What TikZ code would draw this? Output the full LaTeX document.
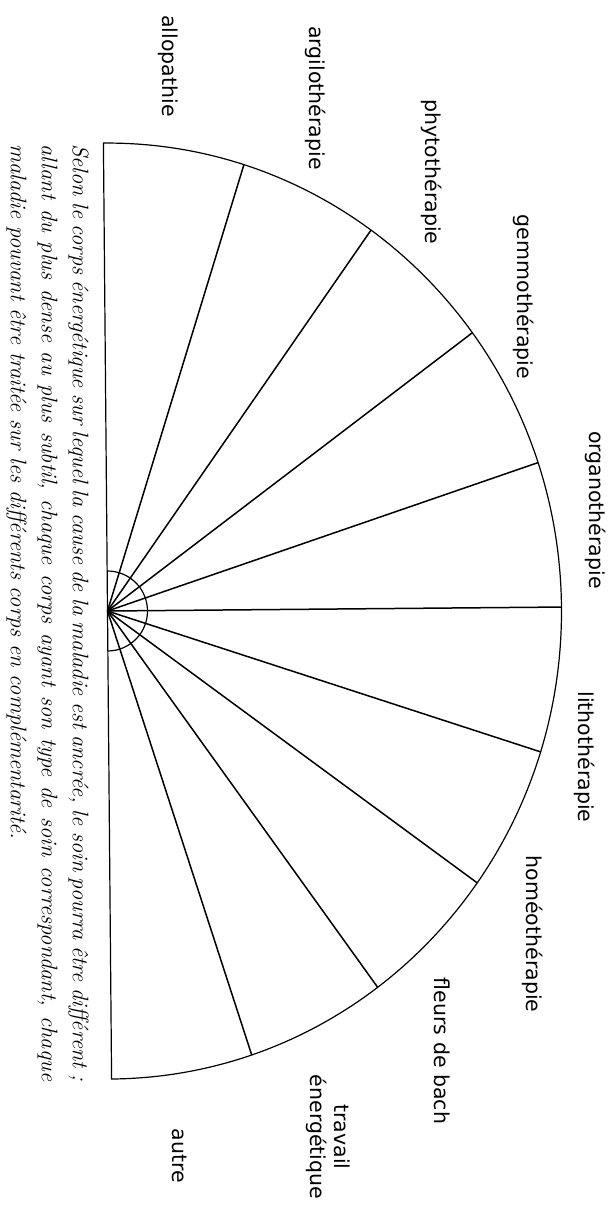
\documentclass[tikz,border=0pt]{standalone}
\usepackage{fontspec}
\setsansfont{DejaVu Sans}
\begin{document}
\begin{tikzpicture}[
    x=1pt, y=1pt,
    soin/.style={font=\sffamily\fontsize{20.5}{24}\selectfont, rotate=-90, inner sep=0pt, align=center},
    rayon/.style={line width=1.5pt},
    bord/.style={line width=1.2pt},
    legende/.style={rotate=-90, anchor=north west, inner sep=0pt, text width=937pt, align=justify,
      font=\itshape\fontsize{22.5}{31}\selectfont}
  ]
  \useasboundingbox (0,0) rectangle (614,-1212);

  % demi-disque des soins
  \begin{scope}[shift={(107.5,-611)}, rotate=0.5]
    \coordinate (centre) at (0,0);
    \coordinate (haut) at (0,468);
    \draw[bord] (haut) arc[start angle=90, end angle=-90, x radius=454, y radius=468] -- cycle;
    \foreach \a [count=\i] in {72,54,36,18,0,-18,-36,-54,-72}
      \coordinate (b\i) at (\a:454 and 468);
    \foreach \i in {1,...,9}
      \draw[rayon] (centre) -- (b\i);
    \draw[bord] (0,40) arc[start angle=90, end angle=-90, radius=40];
  \end{scope}

  % noms des soins
  \node[soin] (allo) at (168,-66) {allopathie};
  \node[soin] (argilo) at (316,-98) {argilothérapie};
  \node[soin] (phyto) at (432,-172) {phytothérapie};
  \node[soin] (gemmo) at (524,-297) {gemmothérapie};
  \node[soin] (organo) at (596,-510) {organothérapie};
  \node[soin] (litho) at (585,-757) {lithothérapie};
  \node[soin] (homeo) at (533,-934) {homéothérapie};
  \node[soin] (bach) at (442,-1051) {fleurs de bach};
  \node[soin] (travail) at (328,-1137) {travail\\énergétique};
  \node[soin] (autre) at (180,-1156) {autre};

  \node[legende] (texte) at (89,-144) {Selon le corps énergétique sur lequel la cause de la maladie est ancrée, le soin pourra être différent~;\linebreak
    allant du plus dense au plus subtil, chaque corps ayant son type de soin correspondant, chaque\linebreak
    maladie pouvant être traitée sur les différents corps en complémentarité.};
\end{tikzpicture}
\end{document}
